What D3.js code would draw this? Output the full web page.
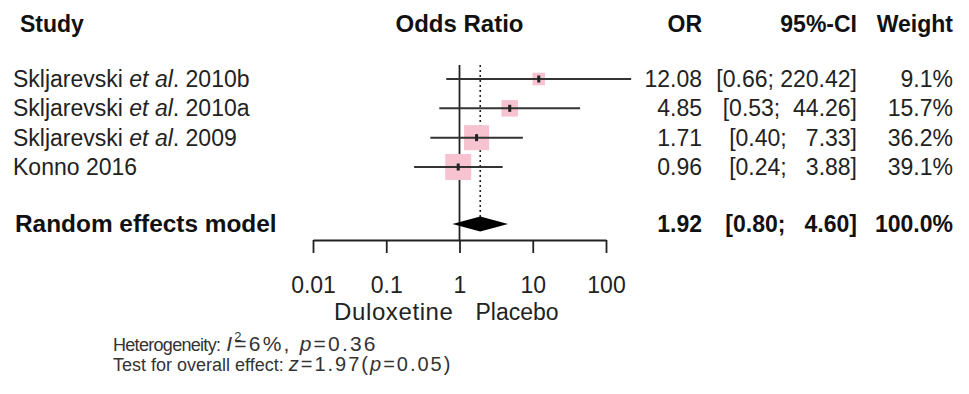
<!DOCTYPE html>
<html>
<head>
<meta charset="utf-8">
<script src="https://cdn.jsdelivr.net/npm/d3@7"></script>
<style>
  html, body { margin: 0; padding: 0; background: #fff; }
  svg { display: block; font-family: "Liberation Sans", Arial, sans-serif; }
</style>
</head>
<body>
<svg id="chart" width="969" height="394"></svg>
<script>
// ---- data ----
const studies = ["Skljarevski et al. 2010b", "Skljarevski et al. 2010a", "Skljarevski et al. 2009", "Konno 2016"];
const oddsRatios = [12.08, 4.85, 1.71, 0.96];
const ciLower = [0.66, 0.53, 0.40, 0.24];
const ciUpper = [220.42, 44.26, 7.33, 3.88];
const weights = [9.1, 15.7, 36.2, 39.1];
const pooledLabel = "Random effects model";
const pooledOR = 1.92;
const pooledLower = 0.80;
const pooledUpper = 4.60;
const pooledWeight = 100.0;
const axisTicks = [0.01, 0.1, 1, 10, 100];
const axisTickLabels = ["0.01", "0.1", "1", "10", "100"];
const favoursLeft = "Duloxetine";
const favoursRight = "Placebo";
const headers = { study: "Study", plot: "Odds Ratio", or: "OR", ci: "95%-CI", weight: "Weight" };

// ---- layout ----
const svg = d3.select("#chart");
const FONT = 23;
const textCol = "#222";
const x = d3.scaleLog().domain([0.01, 100]).range([313, 606]);
const y = d3.scalePoint().domain(studies).range([79, 167]);
const ySum = 224;
const axisY = 240;
const size = d3.scaleSqrt().domain([0, d3.max(weights)]).range([0, 26]);
const colOR = 702, colCI = 857, colW = 953;

const upperW = d3.max(ciUpper.concat([pooledUpper]), v => v.toFixed(2).length);
function ciText(lo, hi) {
  const h = hi.toFixed(2);
  return "[" + lo.toFixed(2) + "; " + " ".repeat(upperW - h.length) + h + "]";
}

// headers
const hdr = svg.append("g").attr("font-weight", "bold").attr("font-size", FONT).attr("fill", "#111");
hdr.append("text").attr("x", 20).attr("y", 32).text(headers.study);
hdr.append("text").attr("x", x(1)).attr("y", 32).attr("text-anchor", "middle").attr("font-size", 24).text(headers.plot);
hdr.append("text").attr("x", colOR).attr("y", 32).attr("text-anchor", "end").text(headers.or);
hdr.append("text").attr("x", colCI).attr("y", 32).attr("text-anchor", "end").text(headers.ci);
hdr.append("text").attr("x", colW).attr("y", 32).attr("text-anchor", "end").text(headers.weight);

// reference line at 1
svg.append("line")
  .attr("x1", x(1)).attr("x2", x(1)).attr("y1", 65).attr("y2", axisY)
  .attr("stroke", "#222").attr("stroke-width", 1.8);

// dotted pooled line
svg.append("line")
  .attr("x1", x(pooledOR)).attr("x2", x(pooledOR)).attr("y1", 65).attr("y2", ySum - 7)
  .attr("stroke", "#222").attr("stroke-width", 1.6).attr("stroke-dasharray", "2,3");

// study rows
const rows = svg.append("g").selectAll("g").data(studies).join("g")
  .attr("transform", d => `translate(0,${y(d)})`);

rows.append("rect")
  .attr("x", (d, i) => x(oddsRatios[i]) - size(weights[i]) / 2)
  .attr("y", (d, i) => -size(weights[i]) / 2)
  .attr("width", (d, i) => size(weights[i]))
  .attr("height", (d, i) => size(weights[i]))
  .attr("fill", "#f8c3d0");

rows.append("line")
  .attr("x1", (d, i) => x(ciLower[i])).attr("x2", (d, i) => x(ciUpper[i]))
  .attr("stroke", "#333").attr("stroke-width", 2);

rows.append("line")
  .attr("x1", (d, i) => x(oddsRatios[i])).attr("x2", (d, i) => x(oddsRatios[i]))
  .attr("y1", -3.5).attr("y2", 3.5)
  .attr("stroke", "#222").attr("stroke-width", 3);

const lab = rows.append("text").attr("x", 13).attr("y", 8).attr("font-size", FONT).attr("fill", textCol);
lab.each(function(d) {
  const t = d3.select(this);
  const parts = d.split(" et al. ");
  if (parts.length === 2) {
    t.append("tspan").text(parts[0] + " ");
    t.append("tspan").attr("font-style", "italic").text("et al");
    t.append("tspan").text(". " + parts[1]);
  } else {
    t.text(d);
  }
});

rows.append("text").attr("x", colOR).attr("y", 8).attr("text-anchor", "end")
  .attr("font-size", FONT).attr("fill", textCol)
  .text((d, i) => oddsRatios[i].toFixed(2));
rows.append("text").attr("x", colCI).attr("y", 8).attr("text-anchor", "end")
  .attr("font-size", FONT).attr("fill", textCol).style("white-space", "pre")
  .text((d, i) => ciText(ciLower[i], ciUpper[i]));
rows.append("text").attr("x", colW).attr("y", 8).attr("text-anchor", "end")
  .attr("font-size", FONT).attr("fill", textCol)
  .text((d, i) => weights[i].toFixed(1) + "%");

// pooled row
const ps = svg.append("g").attr("transform", `translate(0,${ySum})`);
ps.append("polygon")
  .attr("points", [
    [x(pooledLower), 0], [x(pooledOR), -7.5], [x(pooledUpper), 0], [x(pooledOR), 7.5]
  ].map(p => p.join(",")).join(" "))
  .attr("fill", "#000");
const pt = ps.append("g").attr("font-weight", "bold").attr("font-size", FONT).attr("fill", "#111");
pt.append("text").attr("x", 15).attr("y", 8).attr("font-size", 24.4).text(pooledLabel);
pt.append("text").attr("x", colOR).attr("y", 8).attr("text-anchor", "end").text(pooledOR.toFixed(2));
pt.append("text").attr("x", colCI).attr("y", 8).attr("text-anchor", "end").style("white-space", "pre")
  .text(ciText(pooledLower, pooledUpper));
pt.append("text").attr("x", colW).attr("y", 8).attr("text-anchor", "end").text(pooledWeight.toFixed(1) + "%");

// axis
const axis = d3.axisBottom(x).tickValues(axisTicks)
  .tickFormat((d, i) => axisTickLabels[i]).tickSize(13).tickSizeOuter(0).tickPadding(24);
const ag = svg.append("g").attr("transform", `translate(0,${axisY})`).call(axis);
ag.select(".domain").attr("stroke", "#222").attr("stroke-width", 1.8);
ag.selectAll(".tick line").attr("stroke", "#222").attr("stroke-width", 1.8);
ag.selectAll(".tick text").attr("font-size", FONT).attr("fill", textCol)
  .attr("font-family", "Liberation Sans, Arial, sans-serif");

svg.append("text").attr("x", x(1) - 6).attr("y", 320).attr("text-anchor", "end")
  .attr("font-size", 24).attr("letter-spacing", 0.6).attr("fill", textCol).text(favoursLeft);
svg.append("text").attr("x", x(1) + 16).attr("y", 320)
  .attr("font-size", FONT).attr("fill", textCol).text(favoursRight);

// heterogeneity text
const hf = 18;
const mf = 20;
const h1 = svg.append("text").attr("x", 113).attr("y", 351).attr("font-size", hf).attr("fill", "#333");
h1.append("tspan").attr("letter-spacing", -0.7).text("Heterogeneity:");
h1.append("tspan").attr("dx", 6).attr("font-size", 21).attr("font-style", "italic").text("I");
h1.append("tspan").attr("font-size", 13).attr("dy", -10).attr("dx", 2).text("2");
h1.append("tspan").attr("dy", 10).attr("dx", -7).attr("font-size", 21).attr("letter-spacing", 2.2).text("=6%, ");
h1.append("tspan").attr("font-size", 21).attr("letter-spacing", 2.2).attr("font-style", "italic").text("p");
h1.append("tspan").attr("font-size", 21).attr("letter-spacing", 2.2).text("=0.36");

const h2 = svg.append("text").attr("x", 113).attr("y", 371).attr("font-size", hf).attr("fill", "#333");
h2.append("tspan").text("Test for overall effect:");
h2.append("tspan").attr("dx", 5).attr("font-size", mf).attr("letter-spacing", 2).attr("font-style", "italic").text("z");
h2.append("tspan").attr("font-size", mf).attr("letter-spacing", 2).text("=1.97(");
h2.append("tspan").attr("font-size", mf).attr("letter-spacing", 2).attr("font-style", "italic").text("p");
h2.append("tspan").attr("font-size", mf).attr("letter-spacing", 2).text("=0.05)");
</script>
</body>
</html>
